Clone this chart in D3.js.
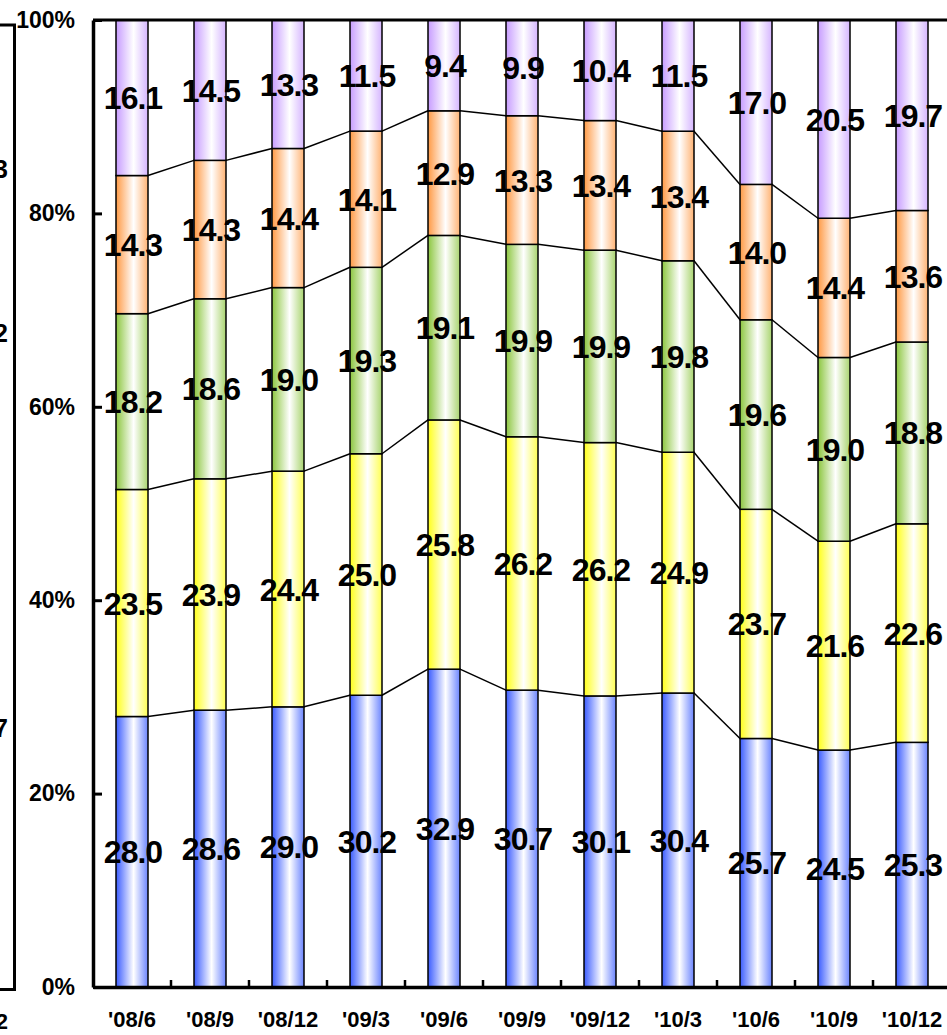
<!DOCTYPE html>
<html>
<head>
<meta charset="utf-8">
<script src="https://cdn.jsdelivr.net/npm/d3@7"></script>
<style>
  html, body { margin: 0; padding: 0; background: #fff; }
  svg { display: block; }
  text { font-family: "Liberation Sans", Arial, Helvetica, sans-serif; font-weight: bold; fill: #000; }
</style>
</head>
<body>
<svg id="chart" width="947" height="1035"></svg>
<script>
// Quarter labels along the x axis
const quarters = ["'08/6", "'08/9", "'08/12", "'09/3", "'09/6", "'09/9", "'09/12", "'10/3", "'10/6", "'10/9", "'10/12"];

// Shares of each group per quarter (bottom segment first)
const group1 = [28.0, 28.6, 29.0, 30.2, 32.9, 30.7, 30.1, 30.4, 25.7, 24.5, 25.3];
const group2 = [23.5, 23.9, 24.4, 25.0, 25.8, 26.2, 26.2, 24.9, 23.7, 21.6, 22.6];
const group3 = [18.2, 18.6, 19.0, 19.3, 19.1, 19.9, 19.9, 19.8, 19.6, 19.0, 18.8];
const group4 = [14.3, 14.3, 14.4, 14.1, 12.9, 13.3, 13.4, 13.4, 14.0, 14.4, 13.6];
const group5 = [16.1, 14.5, 13.3, 11.5, 9.4, 9.9, 10.4, 11.5, 17.0, 20.5, 19.7];

// Percent axis ticks
const yTicks = [0, 0.2, 0.4, 0.6, 0.8, 1.0];

const seriesList = [group1, group2, group3, group4, group5];
const seriesColors = ["#3b5cff", "#ffff1a", "#8cc63f", "#ff9a45", "#c79cff"];

const svg = d3.select("#chart");

// Plot frame (right side runs past the page edge)
const plotLeft = 93, plotTop = 20, plotBottom = 987;
const band = 78;
const plotRight = plotLeft + band * quarters.length;

const x = d3.scaleBand().domain(quarters).range([plotLeft, plotRight]).paddingInner(0).paddingOuter(0);
const y = d3.scaleLinear().domain([0, 1]).range([plotBottom, plotTop]);
const barW = 32;

// Horizontal gradient fills: colour at the edges, white near the middle
const defs = svg.append("defs");
seriesColors.forEach((c, i) => {
  const g = defs.append("linearGradient").attr("id", "grad" + i)
    .attr("x1", "0%").attr("x2", "100%").attr("y1", "0%").attr("y2", "0%");
  const light = d3.interpolateRgb(c, "#ffffff")(0.25);
  g.append("stop").attr("offset", "0%").attr("stop-color", c);
  g.append("stop").attr("offset", "55%").attr("stop-color", "#ffffff");
  g.append("stop").attr("offset", "100%").attr("stop-color", light);
});

// Build normalised stacks (100% stacked)
const rows = quarters.map((q, i) => {
  const vals = seriesList.map(s => s[i]);
  const total = d3.sum(vals);
  let acc = 0;
  return vals.map((v, k) => {
    const y0 = acc / total;
    acc += v;
    return { q, k, v, y0, y1: acc / total };
  });
});

const cx = q => x(q) + x.bandwidth() / 2;

// Series lines joining segment tops of neighbouring bars
const linesG = svg.append("g");
for (let k = 0; k < seriesList.length - 1; k++) {
  for (let i = 0; i < quarters.length - 1; i++) {
    const a = rows[i][k], b = rows[i + 1][k];
    linesG.append("line")
      .attr("x1", cx(a.q) + barW / 2)
      .attr("x2", cx(b.q) - barW / 2)
      .attr("y1", y(a.y1)).attr("y2", y(b.y1))
      .attr("stroke", "#000").attr("stroke-width", 1.5);
  }
}

// Bars
const barsG = svg.append("g");
rows.forEach(segs => {
  segs.forEach(d => {
    barsG.append("rect")
      .attr("x", cx(d.q) - barW / 2)
      .attr("y", y(d.y1))
      .attr("width", barW)
      .attr("height", y(d.y0) - y(d.y1))
      .attr("fill", `url(#grad${d.k})`)
      .attr("stroke", "#000").attr("stroke-width", 1.5);
  });
});

// Plot area border
svg.append("line").attr("x1", plotLeft).attr("x2", 947).attr("y1", plotTop).attr("y2", plotTop)
  .attr("stroke", "#000").attr("stroke-width", 3);

// Y axis with inward ticks
const yAxis = d3.axisLeft(y).tickValues(yTicks).tickFormat(d3.format(".0%")).tickSizeInner(-9).tickSizeOuter(0).tickPadding(18);
const yG = svg.append("g").attr("transform", `translate(${plotLeft},0)`).call(yAxis);
yG.select(".domain").attr("stroke", "#000").attr("stroke-width", 3.5);
yG.selectAll(".tick line").attr("stroke", "#000").attr("stroke-width", 3);
yG.selectAll(".tick text").style("font-size", "23px").attr("x", -18);

// X axis with inward ticks on category boundaries
const xAxis = d3.axisBottom(x).tickSize(0).tickPadding(24);
const xG = svg.append("g").attr("transform", `translate(0,${plotBottom})`).call(xAxis);
xG.select(".domain").attr("stroke", "#000").attr("stroke-width", 3.5);
xG.selectAll(".tick text").style("font-size", "22px");
xG.selectAll(".bound").data(quarters.slice(1)).enter().append("line")
  .attr("x1", d => x(d)).attr("x2", d => x(d))
  .attr("y1", 0).attr("y2", -7)
  .attr("stroke", "#000").attr("stroke-width", 2.5);

// Value labels centred in each segment
const labelsG = svg.append("g");
rows.forEach(segs => {
  segs.forEach(d => {
    labelsG.append("text")
      .attr("x", cx(d.q) + 1)
      .attr("y", (y(d.y0) + y(d.y1)) / 2)
      .attr("dy", "0.36em")
      .attr("text-anchor", "middle")
      .style("font-size", "32px")
      .style("letter-spacing", "-1px")
      .text(d.v.toFixed(1));
  });
});

// Edge of the neighbouring panel on the left
const nb = svg.append("g");
nb.append("path").attr("d", "M0,25 H14.5 V989.5 H0")
  .attr("fill", "none").attr("stroke", "#000").attr("stroke-width", 3);
[["3", 178], ["2", 342], ["7", 737]].forEach(([t, yy]) => {
  nb.append("text").attr("x", 8).attr("y", yy).attr("text-anchor", "end")
    .style("font-size", "25px").text(t);
});
nb.append("text").attr("x", 8).attr("y", 1029).attr("text-anchor", "end")
  .style("font-size", "22px").text("2");
</script>
</body>
</html>
